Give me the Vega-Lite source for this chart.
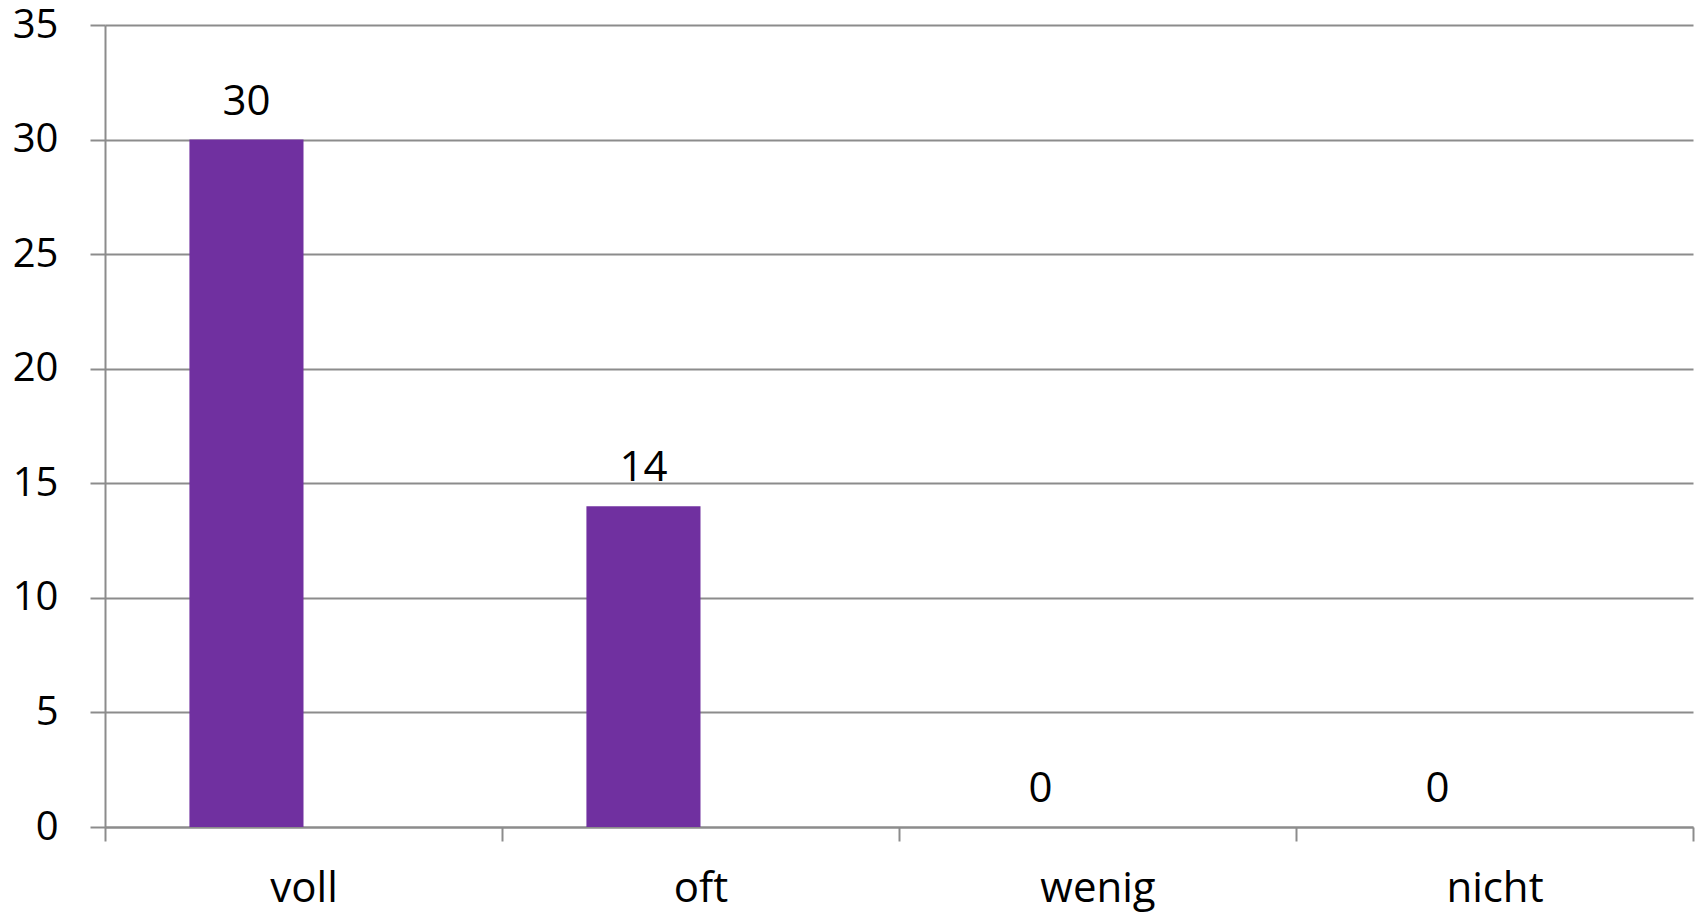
{
  "$schema": "https://vega.github.io/schema/vega-lite/v6.json",
  "width": 1588,
  "height": 802,
  "autosize": {"type": "none"},
  "padding": {"left": 105, "top": 25, "right": 5, "bottom": 86},
  "background": "white",
  "config": {
    "view": {"stroke": null},
    "font": "Open Sans"
  },
  "data": {
    "values": [
      {"kategorie": "voll", "serie": "A", "anzahl": 30},
      {"kategorie": "oft", "serie": "A", "anzahl": 14},
      {"kategorie": "wenig", "serie": "A", "anzahl": 0},
      {"kategorie": "nicht", "serie": "A", "anzahl": 0}
    ]
  },
  "encoding": {
    "x": {
      "field": "kategorie",
      "type": "nominal",
      "sort": ["voll", "oft", "wenig", "nicht"],
      "scale": {"paddingInner": 0, "paddingOuter": 0},
      "axis": {
        "title": null,
        "labelAngle": 0,
        "tickBand": "extent",
        "tickSize": 14,
        "tickWidth": 2,
        "tickColor": "#8c8c8c",
        "domainColor": "#8c8c8c",
        "domainWidth": 2,
        "labelFont": "Open Sans",
        "labelFontSize": 42,
        "labelColor": "#000000",
        "labelPadding": 27
      }
    },
    "xOffset": {
      "field": "serie",
      "type": "nominal",
      "scale": {"domain": ["A", "B"], "paddingInner": 0, "paddingOuter": 0.74}
    },
    "y": {
      "field": "anzahl",
      "type": "quantitative",
      "scale": {"domain": [0, 35], "nice": false},
      "axis": {
        "title": null,
        "values": [0, 5, 10, 15, 20, 25, 30, 35],
        "grid": true,
        "gridColor": "#8c8c8c",
        "gridWidth": 2,
        "tickSize": 15,
        "tickWidth": 2,
        "tickColor": "#8c8c8c",
        "domainColor": "#8c8c8c",
        "domainWidth": 2,
        "labelFont": "Open Sans",
        "labelFontSize": 40,
        "labelColor": "#000000",
        "labelPadding": 32
      }
    }
  },
  "layer": [
    {
      "mark": {"type": "bar", "color": "#7030A0"}
    },
    {
      "mark": {
        "type": "text",
        "font": "Open Sans",
        "fontSize": 42,
        "color": "#000000",
        "align": "center",
        "baseline": "alphabetic",
        "dy": -25
      },
      "encoding": {
        "text": {"field": "anzahl", "type": "quantitative"}
      }
    }
  ]
}
